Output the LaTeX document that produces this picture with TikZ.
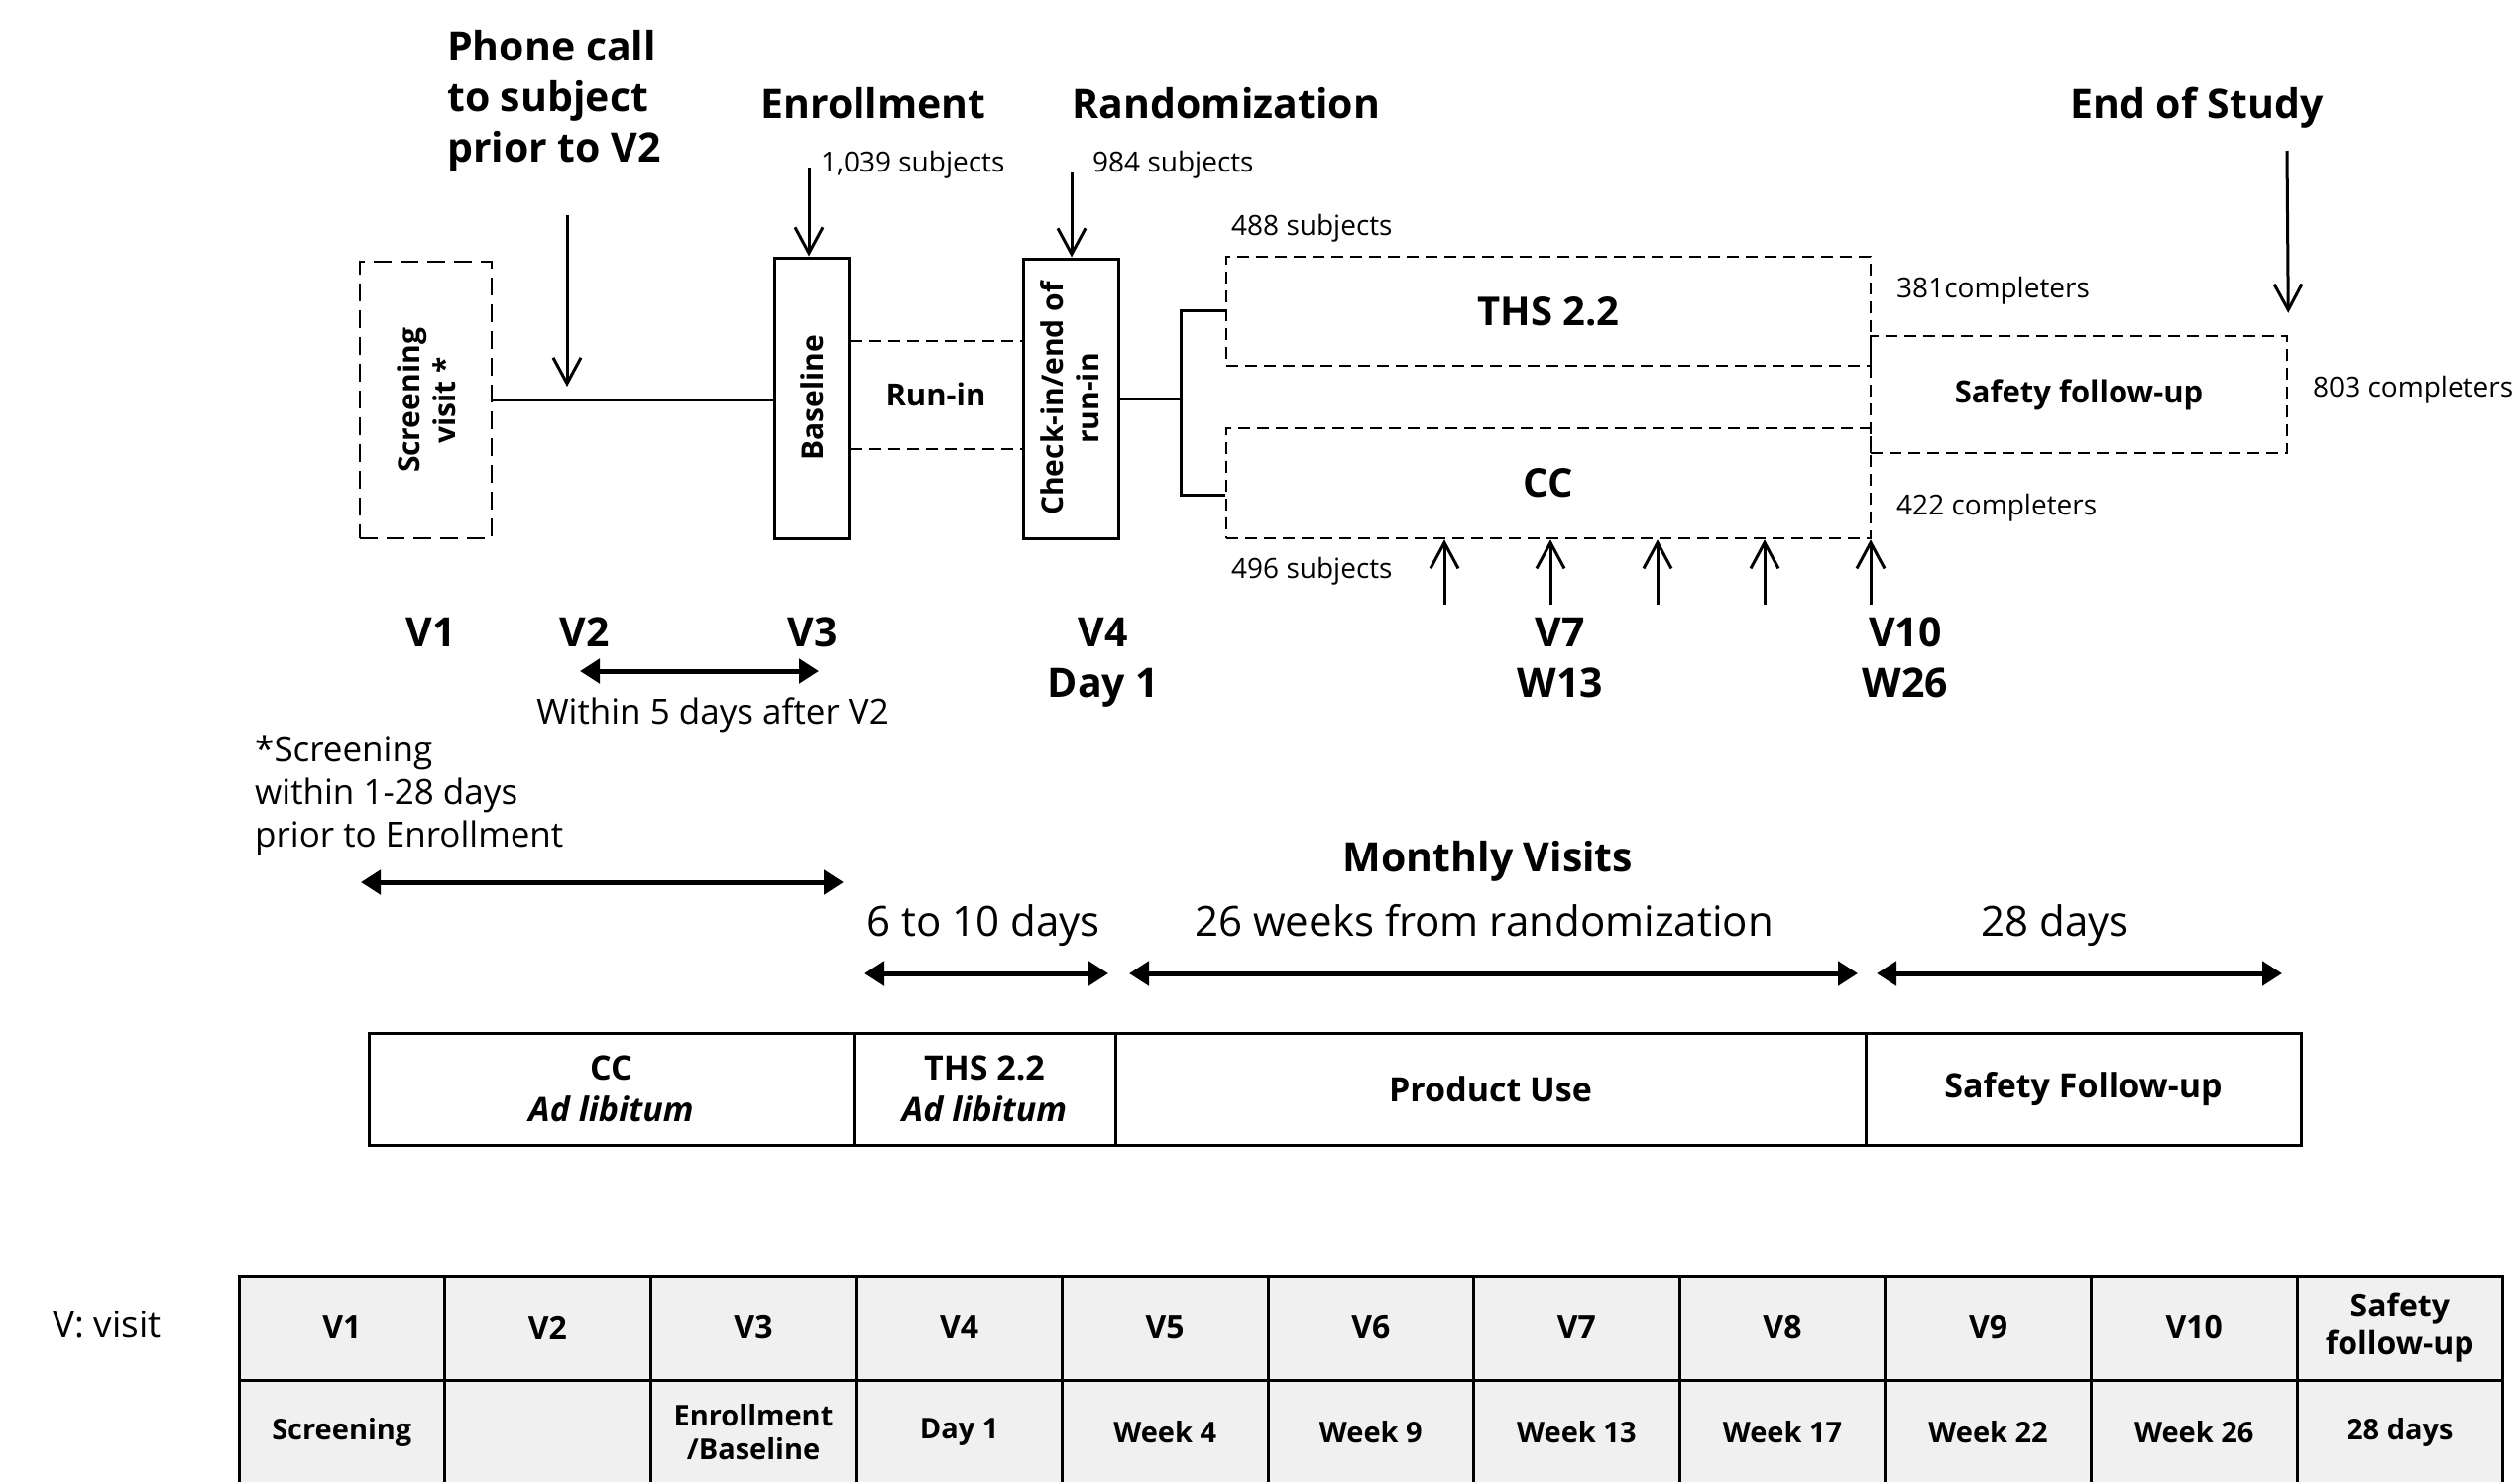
\documentclass[tikz,border=0pt]{standalone}
\usepackage{fontspec}
\setmainfont{Open Sans}
\usetikzlibrary{arrows.meta}
\newcommand{\fsz}[2]{\fontsize{#1}{#2}\selectfont}
\definecolor{tabgray}{HTML}{F0F0F0}
\begin{document}
\begin{tikzpicture}[x=1pt,y=-1pt,
  box/.style={draw,line width=3pt,inner sep=0pt},
  dbox/.style={draw,line width=2.5pt,dash pattern=on 12pt off 7pt,inner sep=0pt},
  conn/.style={line width=3pt},
  dline/.style={line width=2.5pt,dash pattern=on 12pt off 7pt},
  barb/.style={line width=3pt,-{Straight Barb[length=26pt,width=28pt]}},
  dbl/.style={line width=5pt,{Triangle[length=20pt,width=24pt]}-{Triangle[length=20pt,width=24pt]}},
  head/.style={font=\bfseries\fsz{41}{51},anchor=base,inner sep=0pt},
  small/.style={font=\fsz{28}{34},anchor=base west,inner sep=0pt},
  mid/.style={font=\fsz{35}{43},inner sep=0pt},
  big/.style={font=\fsz{42}{50},anchor=base,inner sep=0pt},
  vlab/.style={font=\bfseries\fsz{41}{51},anchor=base,inner sep=0pt},
  rot/.style={font=\bfseries\fsz{30}{36},rotate=90,align=center,inner sep=0pt},
  phase/.style={draw,line width=3pt,minimum height=113pt,inner sep=0pt,align=center,font=\bfseries\fsz{34}{42}},
  cell/.style={draw,line width=3pt,fill=tabgray,minimum width=207.6pt,minimum height=105pt,inner sep=0pt,align=center}
]
\useasboundingbox (0,0) rectangle (2542,1494);

% ---- top headings
\node[font=\bfseries\fsz{41}{51},anchor=base west,align=left,inner sep=0pt] (phone) at (451,163) {Phone call\\to subject\\prior to V2};
\node[head] (enr) at (881,119) {Enrollment};
\node[head] (rand) at (1237,119) {Randomization};
\node[head] (eos) at (2216,119) {End of Study};

% ---- boxes
\node[dbox,dash pattern=on 18pt off 9pt,minimum width=133pt,minimum height=279pt] (scr) at (429.5,403.5) {};
\node[rot] (scrt) at (430,404) {Screening\\visit *};
\node[box,minimum width=75pt,minimum height=283pt] (base) at (818.5,401.5) {};
\node[rot] (baset) at (819,401) {Baseline};
\node[box,minimum width=96pt,minimum height=282pt] (chk) at (1080,402) {};
\node[rot] (chkt) at (1079,402) {Check-in/end of\\run-in};
\node[dbox,minimum width=650pt,minimum height=110pt,font=\bfseries\fsz{40}{48}] (ths) at (1562,314) {THS 2.2};
\node[dbox,minimum width=650pt,minimum height=111pt,font=\bfseries\fsz{40}{48}] (cc) at (1562,487.5) {CC};
\node[dbox,minimum width=420pt,minimum height=118pt,font=\bfseries\fsz{31}{38}] (sfu) at (2097,398) {Safety follow-up};
\node[font=\bfseries\fsz{31}{38},anchor=base,inner sep=0pt] (runin) at (944,409) {Run-in};

% ---- connectors
\draw[conn] (scr.east) -- (scr.east -| base.west);
\draw[dline] (base.east |- 0,344) -- (chk.west |- 0,344);
\draw[dline] (base.east |- 0,453) -- (chk.west |- 0,453);
\coordinate (bt) at (1191,313);
\coordinate (bb) at (1191,499);
\draw[conn] (chk.east) -- (chk.east -| bt);
\draw[conn] (ths.west |- bt) -- (bt) -- (bb) -- (cc.west |- bb);

% ---- arrows down
\coordinate (ph1) at (572,217);
\coordinate (ph2) at (572,390);
\draw[barb] (ph1) -- (ph2);
\coordinate (en1) at (816,169);
\draw[barb] (en1) -- (en1 |- base.north) ;
\coordinate (ra1) at (1081,174);
\draw[barb] (ra1) -- (ra1 |- chk.north);
\coordinate (eo1) at (2307,152);
\draw[barb] (eo1) -- ([yshift=22pt]sfu.north east);

% ---- arrows up
\foreach \x in {1457,1564,1672,1780,1887}{
  \draw[barb] (\x,610) -- (\x,610 |- cc.south);
}

% ---- counts
\node[small] (n1) at (828,173) {1,039 subjects};
\node[small] (n2) at (1102,173) {984 subjects};
\node[small] (n3) at (1242,237) {488 subjects};
\node[small] (n4) at (1242,583) {496 subjects};
\node[small] (n5) at (1913,300) {381completers};
\node[small] (n6) at (2333,400) {803 completers};
\node[small] (n7) at (1913,519) {422 completers};

% ---- visit labels
\node[vlab] (v1) at (435,652) {V1};
\node[vlab] (v2) at (590,652) {V2};
\node[vlab] (v3) at (820,652) {V3};
\node[vlab] (v4) at (1113,652) {V4};
\node[vlab] (d1) at (1113,703) {Day 1};
\node[vlab] (v7) at (1574,652) {V7};
\node[vlab] (w13) at (1574,703) {W13};
\node[vlab] (v10) at (1922,652) {V10};
\node[vlab] (w26) at (1922,703) {W26};

\coordinate (a1) at (585,677);
\coordinate (a2) at (826,677);
\draw[dbl] (a1) -- (a2);
\node[mid,anchor=base] (within) at (719,730) {Within 5 days after V2};
\node[mid,anchor=base west,align=left] (scrnote) at (257,854) {*Screening\\within 1-28 days\\prior to Enrollment};
\coordinate (b1) at (364,890);
\coordinate (b2) at (851,890);
\draw[dbl] (b1) -- (b2);

% ---- lower timeline
\node[head] (mv) at (1501,879) {Monthly Visits};
\node[big] (t610) at (992,944) {6 to 10 days};
\node[big] (t26) at (1497,944) {26 weeks from randomization};
\node[big] (t28) at (2073,944) {28 days};
\coordinate (c1) at (872,982);  \coordinate (c2) at (1118,982);
\coordinate (c3) at (1139,982); \coordinate (c4) at (1874,982);
\coordinate (c5) at (1893,982); \coordinate (c6) at (2302,982);
\draw[dbl] (c1) -- (c2);
\draw[dbl] (c3) -- (c4);
\draw[dbl] (c5) -- (c6);

% ---- phase bar
\node[phase,minimum width=489pt] (p1) at (616.5,1098.5) {CC\\\textit{Ad libitum}};
\node[phase,minimum width=264pt] (p2) at (993,1098.5) {THS 2.2\\\textit{Ad libitum}};
\node[phase,minimum width=757pt] (p3) at (1503.5,1098.5) {Product Use};
\node[phase,minimum width=439pt] (p4) at (2101.5,1098.5) {Safety Follow-up};

% ---- visit table
\node[font=\fsz{37}{44},anchor=west,inner sep=0pt] (vv) at (53,1336) {V: visit};
\foreach \lab [count=\i from 0] in {V1,V2,V3,V4,V5,V6,V7,V8,V9,V10,{Safety\\follow-up}}{
  \node[cell,font=\bfseries\fsz{32}{38}] (ta\i) at ({344.8+207.6*\i},1339.5) {\lab};
}
\foreach \lab [count=\i from 0] in {Screening,{},{Enrollment\\/Baseline},Day 1,Week 4,Week 9,Week 13,Week 17,Week 22,Week 26,28 days}{
  \node[cell,font=\bfseries\fsz{29}{34}] (tb\i) at ({344.8+207.6*\i},1444.5) {\lab};
}
\end{tikzpicture}
\end{document}
